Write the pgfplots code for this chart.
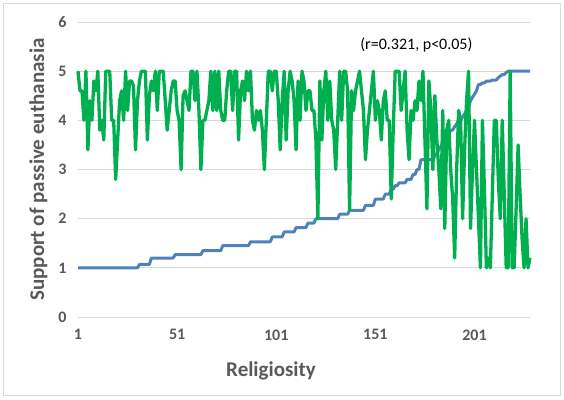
\documentclass[border=0pt]{standalone}
\usepackage{pgfplots}
\pgfplotsset{compat=1.18}
\usepackage{pgfplotstable}
\usepackage{fontspec}
\setmainfont{Carlito}
\definecolor{cgreen}{HTML}{00B050}
\definecolor{cblue}{HTML}{4F81BD}
\definecolor{cgrid}{HTML}{D9D9D9}
\definecolor{ctext}{HTML}{595959}

\pgfplotstableread{
i b g
1 1 5
2 1 4.6
3 1 4.6
4 1 4
5 1 5
6 1 3.4
7 1 4.4
8 1 4
9 1 4.8
10 1 4.6
11 1 5
12 1 3.8
13 1 4
14 1 3.6
15 1 5
16 1 5
17 1 5
18 1 4
19 1 4
20 1 2.8
21 1 3.6
22 1 4.4
23 1 4.6
24 1 4
25 1 5
26 1 4.2
27 1 4.8
28 1 4.8
29 1 4.7
30 1 3.4
31 1 4.4
32 1.07 4.8
33 1.07 5
34 1.07 5
35 1.07 5
36 1.07 3.6
37 1.07 4.5
38 1.2 4.8
39 1.2 4.6
40 1.2 5
41 1.2 4.2
42 1.2 5
43 1.2 5
44 1.2 5
45 1.2 4.4
46 1.2 3.8
47 1.2 4.2
48 1.2 4.6
49 1.2 4.8
50 1.27 4.8
51 1.27 4.2
52 1.27 4
53 1.27 3
54 1.27 4.5
55 1.27 4.6
56 1.27 4.4
57 1.27 4.2
58 1.27 5
59 1.27 5
60 1.27 4.4
61 1.27 5
62 1.27 4.2
63 1.27 3
64 1.35 4
65 1.35 4
66 1.35 4.2
67 1.35 4.4
68 1.35 5
69 1.35 4.2
70 1.35 5
71 1.35 4.2
72 1.35 5
73 1.35 4.2
74 1.45 4
75 1.45 4
76 1.45 4.6
77 1.45 5
78 1.45 5
79 1.45 4.2
80 1.45 5
81 1.45 5
82 1.45 3.6
83 1.45 4.6
84 1.45 4.8
85 1.45 4.4
86 1.45 5
87 1.45 4.6
88 1.53 5
89 1.53 4
90 1.53 3.8
91 1.53 4.2
92 1.53 4
93 1.53 4.2
94 1.53 3.8
95 1.53 3
96 1.53 4
97 1.53 5
98 1.53 5
99 1.63 4.6
100 1.63 5
101 1.63 5
102 1.63 4.4
103 1.63 3.4
104 1.63 4.4
105 1.73 5
106 1.73 3.6
107 1.73 4.6
108 1.73 5
109 1.73 4.8
110 1.73 4.4
111 1.82 3.4
112 1.82 4.8
113 1.82 4
114 1.82 5
115 1.82 4.8
116 1.82 4.2
117 1.91 4.6
118 1.91 4.6
119 1.91 4.2
120 1.91 4.2
121 2 3.6
122 2 2
123 2 4.8
124 2 3.6
125 2 4.6
126 2 5
127 2 4
128 2 4.8
129 2 4
130 2 3.8
131 2 3
132 2 4
133 2.09 5
134 2.09 4
135 2.09 5
136 2.09 5
137 2.09 4.6
138 2.17 2.17
139 2.17 4.6
140 2.17 4.2
141 2.17 4.6
142 2.17 4.8
143 2.17 5
144 2.17 4.6
145 2.17 4.2
146 2.27 3.2
147 2.27 3.8
148 2.27 4.2
149 2.27 4.6
150 2.27 5
151 2.4 4
152 2.4 4.4
153 2.4 4.2
154 2.4 3.6
155 2.4 4.4
156 2.5 4.6
157 2.5 4
158 2.5 4
159 2.6 2.4
160 2.6 3.8
161 2.67 5
162 2.67 5
163 2.73 5
164 2.73 4.2
165 2.73 4.6
166 2.73 5
167 2.8 3.8
168 2.8 3.2
169 2.8 4.2
170 2.9 4
171 2.9 4.4
172 3 4.2
173 3 4.8
174 3.2 4.4
175 3.2 5
176 3.2 3.6
177 3.2 2.2
178 3.2 4.8
179 3.2 4.2
180 3.2 3
181 3.27 4.5
182 3.33 3.6
183 3.4 3
184 3.47 2.2
185 3.53 4.2
186 3.6 1.8
187 3.67 3.8
188 3.73 4
189 3.8 3
190 3.8 2.4
191 3.87 1.2
192 3.93 3
193 4 4.2
194 4 4
195 4.07 2
196 4.13 3.4
197 4.2 4.4
198 4.27 5
199 4.4 1.8
200 4.47 3
201 4.53 4
202 4.6 3
203 4.73 2
204 4.73 1
205 4.76 4
206 4.76 2.6
207 4.8 1
208 4.8 1.2
209 4.8 1
210 4.82 2.5
211 4.82 4
212 4.82 4
213 4.87 2.8
214 4.9 2
215 4.93 4
216 4.93 2.5
217 4.97 1
218 5 1
219 5 5
220 5 1
221 5 1
222 5 2.2
223 5 3.5
224 5 2.5
225 5 1.6
226 5 1
227 5 2
228 5 1
229 5 1.2
}\data

\begin{document}
\begin{tikzpicture}
\path (0pt,0pt) rectangle (564pt,399pt);
\draw[cgrid, line width=1pt] (3.5pt,3.5pt) rectangle (560.5pt,395.5pt);
\begin{axis}[
  at={(78pt,82pt)}, anchor=south west,
  width=452pt, height=295pt, scale only axis,
  xmin=1, xmax=229, ymin=0, ymax=6,
  clip=false,
  xtick={1,51,101,151,201}, ytick={0,1,2,3,4,5,6},
  axis line style={draw=none},
  tick style={draw=none},
  major tick length=0pt,
  ymajorgrids, grid style={cgrid, line width=1pt},
  /pgf/number format/assume math mode=true,
  tick label style={font=\fontsize{16}{19}\selectfont\bfseries, text=ctext},
  yticklabel style={xshift=-8pt},
  xticklabel style={yshift=-9pt},
  label style={font=\fontsize{21}{25}\selectfont\bfseries, text=ctext},
  xlabel={Religiosity},
  xlabel style={at={(axis description cs:0.427,-0.2)}, anchor=base},
  ylabel={Support of passive euthanasia},
  ylabel style={at={(axis description cs:-0.075,0.5)}, anchor=base},
]
\addplot[cblue, line width=3pt, line join=round, no markers] table[x=i, y=b] {\data};
\addplot[cgreen, line width=3.3pt, line join=round, no markers] table[x=i, y=g] {\data};
\node[font=\fontsize{16}{19}\selectfont, text=black] at (axis cs:171.7,5.53) {(r=0.321, p<0.05)};
\end{axis}
\end{tikzpicture}
\end{document}
